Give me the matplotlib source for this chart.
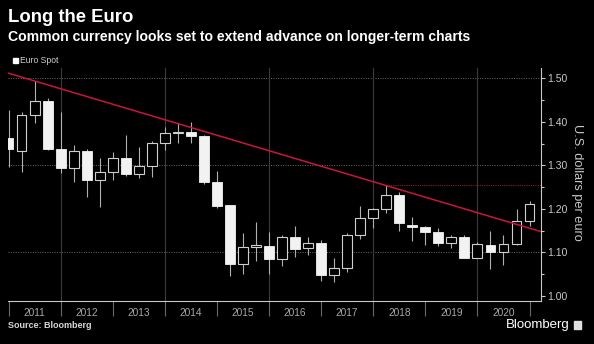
import matplotlib.pyplot as plt
from matplotlib.patches import Rectangle

plt.rcParams['font.family'] = ['Liberation Sans', 'DejaVu Sans']

# quarterly EUR/USD candles (quarter end)
quarters = ['2010Q4',
            '2011Q1', '2011Q2', '2011Q3', '2011Q4',
            '2012Q1', '2012Q2', '2012Q3', '2012Q4',
            '2013Q1', '2013Q2', '2013Q3', '2013Q4',
            '2014Q1', '2014Q2', '2014Q3', '2014Q4',
            '2015Q1', '2015Q2', '2015Q3', '2015Q4',
            '2016Q1', '2016Q2', '2016Q3', '2016Q4',
            '2017Q1', '2017Q2', '2017Q3', '2017Q4',
            '2018Q1', '2018Q2', '2018Q3', '2018Q4',
            '2019Q1', '2019Q2', '2019Q3', '2019Q4',
            '2020Q1', '2020Q2', '2020Q3', '2020Q4']
opens = [1.362,
         1.333, 1.416, 1.449, 1.338,
         1.295, 1.333, 1.266, 1.286,
         1.318, 1.280, 1.299, 1.351,
         1.375, 1.377, 1.368, 1.263,
         1.208, 1.073, 1.113, 1.116,
         1.084, 1.136, 1.110, 1.122,
         1.048, 1.064, 1.141, 1.180,
         1.199, 1.231, 1.164, 1.158,
         1.146, 1.121, 1.135, 1.088,
         1.118, 1.100, 1.120, 1.172]
highs = [1.428,
         1.424, 1.493, 1.455, 1.424,
         1.347, 1.338, 1.317, 1.331,
         1.371, 1.342, 1.357, 1.389,
         1.398, 1.399, 1.370, 1.288,
         1.209, 1.145, 1.170, 1.148,
         1.140, 1.162, 1.135, 1.128,
         1.088, 1.145, 1.207, 1.203,
         1.255, 1.240, 1.181, 1.162,
         1.156, 1.140, 1.141, 1.124,
         1.149, 1.140, 1.200, 1.218]
lows = [1.297,
        1.286, 1.397, 1.336, 1.283,
        1.263, 1.228, 1.205, 1.266,
        1.275, 1.271, 1.274, 1.336,
        1.351, 1.351, 1.257, 1.202,
        1.045, 1.050, 1.080, 1.050,
        1.068, 1.090, 1.094, 1.034,
        1.032, 1.056, 1.130, 1.156,
        1.190, 1.150, 1.127, 1.117,
        1.115, 1.110, 1.088, 1.087,
        1.063, 1.072, 1.117, 1.160]
closes = [1.338,
          1.416, 1.449, 1.338, 1.295,
          1.333, 1.266, 1.286, 1.318,
          1.280, 1.299, 1.351, 1.375,
          1.378, 1.368, 1.263, 1.206,
          1.073, 1.112, 1.118, 1.084,
          1.136, 1.108, 1.121, 1.048,
          1.064, 1.141, 1.180, 1.200,
          1.231, 1.168, 1.159, 1.146,
          1.121, 1.135, 1.088, 1.120,
          1.100, 1.120, 1.172, 1.212]

# trend line anchors and resistance level
trend_x = [2011.0, 2021.22]
trend_y = [1.512, 1.148]
resist_start = 2018.25
resist_level = 1.255

years = list(range(2011, 2021))
yticks = [1.00, 1.10, 1.20, 1.30, 1.40, 1.50]

# quarter end as decimal year
xs = [int(q[:4]) + int(q[-1]) * 0.25 for q in quarters]

fig = plt.figure(figsize=(5.94, 3.44), dpi=100, facecolor='black')
ax = fig.add_axes([8 / 594, 1 - 301 / 344, 533 / 594, 233 / 344])
ax.set_facecolor('black')

# grid
for y in [1.10, 1.30, 1.50]:
    ax.axhline(y, color='#6a6a6a', lw=0.7, ls=(0, (1, 1.5)), zorder=0)
for yr in [2012, 2014, 2016, 2018, 2020]:
    ax.axvline(yr, color='#3c3c3c', lw=0.8, zorder=0)

# candles
w = 0.19
for x, o, h, l, c in zip(xs, opens, highs, lows, closes):
    ax.vlines(x, l, h, color='#b0b0b0', lw=0.8, zorder=2)
    lo, hi = min(o, c), max(o, c)
    if c < o:
        ax.bar(x, hi - lo, bottom=lo, width=w, color='#f2f2f2',
               edgecolor='#f2f2f2', lw=0.6, zorder=3)
    else:
        ax.bar(x, hi - lo, bottom=lo, width=w, color='black',
               edgecolor='#cfcfcf', lw=0.8, zorder=3)

# trend line and horizontal resistance
ax.plot(trend_x, trend_y, color='#c8163c', lw=1.1, zorder=4)
ax.plot([resist_start, trend_x[1]], [resist_level, resist_level],
        color='#8e1c1c', lw=0.8, ls=(0, (1, 1)), zorder=1)

ax.set_xlim(2010.99, 2021.22)
ax.set_ylim(0.9885, 1.524)

# axes styling
for s in ['top', 'left']:
    ax.spines[s].set_visible(False)
ax.spines['right'].set_color('#c8c8c8')
ax.spines['bottom'].set_color('#c8c8c8')
ax.spines['right'].set_linewidth(0.8)
ax.spines['bottom'].set_linewidth(0.8)

ax.yaxis.tick_right()
ax.set_yticks(yticks)
ax.set_yticklabels(['%.2f' % v for v in yticks])
ax.set_yticks([1.05, 1.15, 1.25, 1.35, 1.45], minor=True)
ax.tick_params(axis='y', which='major', direction='out', length=3,
               width=0.8, color='#c8c8c8', labelcolor='#c8c8c8',
               labelsize=7.5, pad=1.5)
ax.tick_params(axis='y', which='minor', direction='out', length=2,
               width=0.8, color='#c8c8c8')

ax.set_xticks([yr + 0.5 for yr in years])
ax.set_xticklabels([str(yr) for yr in years])
ax.set_xticks(list(range(2011, 2022)), minor=True)
ax.tick_params(axis='x', which='major', length=0, labelcolor='#a8a8a8',
               labelsize=7.3, pad=5)
ax.tick_params(axis='x', which='minor', direction='out', length=11,
               width=0.8, color='#6a6a6a')

fig.text(577 / 594, 1 - 182 / 344, 'U.S. dollars per euro', rotation=270,
         color='#c8c8c8', fontsize=9.2, ha='center', va='center')

# titles and legend
fig.text(8 / 594, 1 - 17 / 344, 'Long the Euro', color='white',
         fontsize=13.3, fontweight='bold', va='center', ha='left')
fig.text(8 / 594, 1 - 37 / 344,
         'Common currency looks set to extend advance on longer-term charts',
         color='white', fontsize=10.1, fontweight='bold', va='center', ha='left')
fig.patches.append(Rectangle((13 / 594, 1 - 63 / 344), 5 / 594, 5 / 344,
                             transform=fig.transFigure, color='white'))
fig.text(20 / 594, 1 - 60.5 / 344, 'Euro Spot', color='#d0d0d0',
         fontsize=6.2, va='center', ha='left')

fig.text(8 / 594, 1 - 326 / 344, 'Source: Bloomberg', color='#d8d8d8',
         fontsize=6.5, fontweight='bold', va='center', ha='left')
fig.text(570 / 594, 1 - 325 / 344, 'Bloomberg', color='white',
         fontsize=9.5, va='center', ha='right')
fig.patches.append(Rectangle((574 / 594, 1 - 329 / 344), 7 / 594, 8 / 344,
                             transform=fig.transFigure, color='#e0e0e0'))

fig.savefig('out.png', dpi=100, facecolor='black')
